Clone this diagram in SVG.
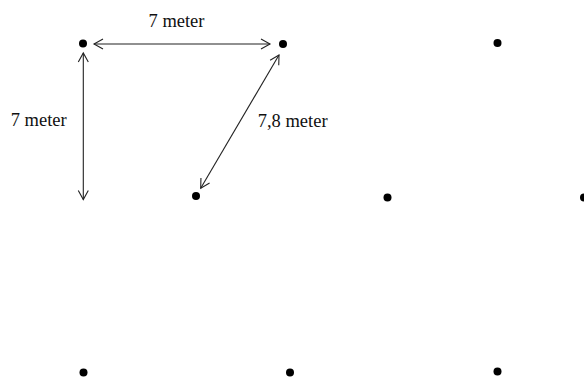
<svg xmlns="http://www.w3.org/2000/svg" width="584" height="378" viewBox="0 0 584 378">
<style>
.dot{fill:#000}
.lbl{font-family:"Liberation Serif","Times New Roman",serif;font-size:18.5px;fill:#111}
.conn{stroke:#222;stroke-width:1.1;fill:none;marker-start:url(#ah);marker-end:url(#ah)}
</style>
<defs>
<marker id="ah" markerUnits="userSpaceOnUse" markerWidth="14" markerHeight="14" viewBox="-12 -7 14 14" refX="0" refY="0" orient="auto-start-reverse">
<path d="M-9,-5 L0,0 L-9,5" fill="none" stroke="#222" stroke-width="1.1"/>
</marker>
</defs>
<rect width="584" height="378" fill="#fff"/>
<g id="p1"><circle class="dot" cx="83" cy="43.5" r="4"/></g>
<g id="p2"><circle class="dot" cx="283" cy="44" r="4"/></g>
<g id="p3"><circle class="dot" cx="497.5" cy="43" r="4"/></g>
<g id="p4"><circle class="dot" cx="196" cy="196" r="4"/></g>
<g id="p5"><circle class="dot" cx="387.5" cy="197.5" r="4"/></g>
<g id="p6"><circle class="dot" cx="584" cy="197.5" r="4"/></g>
<g id="p7"><circle class="dot" cx="83.5" cy="372.5" r="4"/></g>
<g id="p8"><circle class="dot" cx="290" cy="372.5" r="4"/></g>
<g id="p9"><circle class="dot" cx="497.5" cy="371.5" r="4"/></g>
<g id="connectors">
<line class="conn" x1="94" y1="44" x2="270" y2="44"/>
<line class="conn" x1="83.3" y1="53" x2="83.3" y2="199.5"/>
<line class="conn" x1="279" y1="55" x2="200.7" y2="188.3"/>
</g>
<g id="labels">
<text class="lbl" x="148.5" y="26.7">7 meter</text>
<text class="lbl" x="10.7" y="126">7 meter</text>
<text class="lbl" x="257.7" y="127.3">7,8 meter</text>
</g>
</svg>
